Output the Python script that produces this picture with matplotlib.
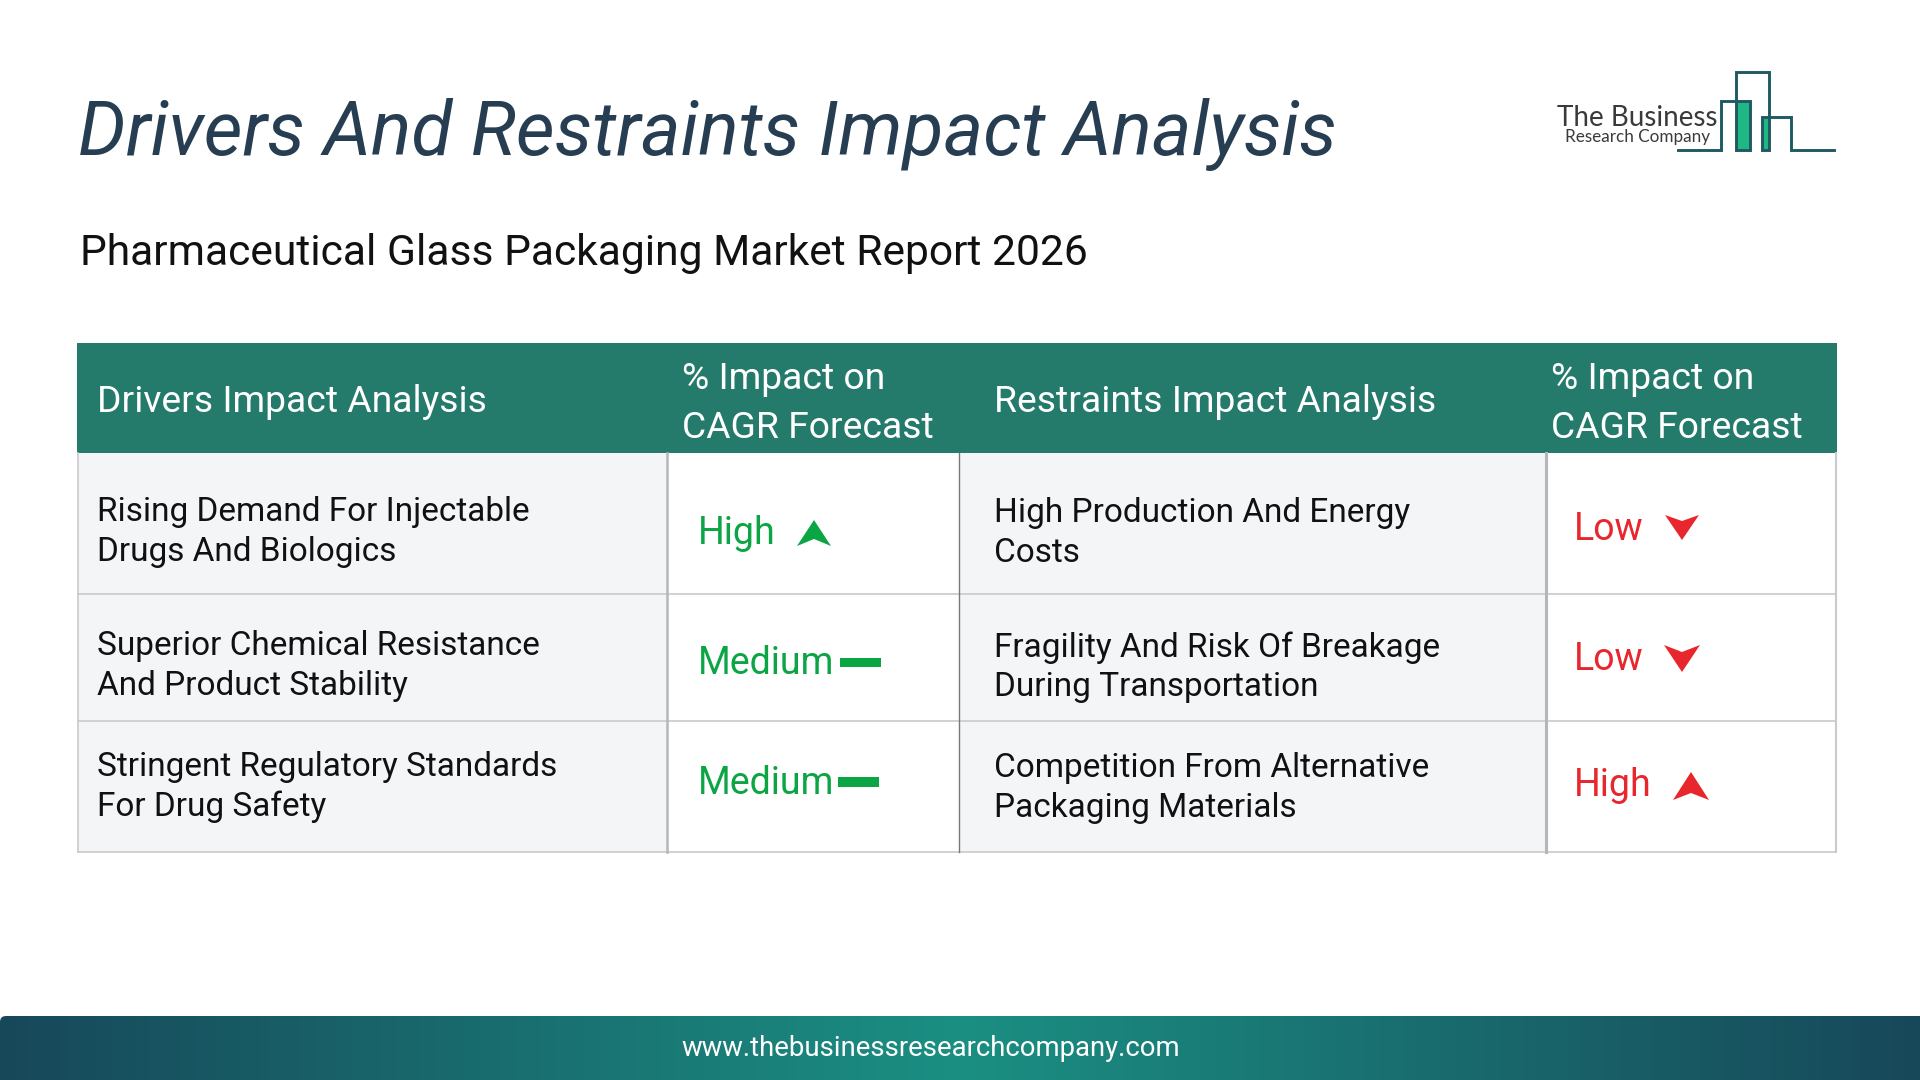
# -*- coding: utf-8 -*-
import numpy as np
import matplotlib
matplotlib.use('Agg')
import matplotlib.pyplot as plt
from matplotlib.colors import LinearSegmentedColormap
from matplotlib.patches import Rectangle, Polygon, FancyBboxPatch

title = 'Drivers And Restraints Impact Analysis'
subtitle = 'Pharmaceutical Glass Packaging Market Report 2026'
url = 'www.thebusinessresearchcompany.com'

headers = ['Drivers Impact Analysis', '% Impact on\nCAGR Forecast',
           'Restraints Impact Analysis', '% Impact on\nCAGR Forecast']
drivers = ['Rising Demand For Injectable\nDrugs And Biologics',
           'Superior Chemical Resistance\nAnd Product Stability',
           'Stringent Regulatory Standards\nFor Drug Safety']
driver_impact = ['High', 'Medium', 'Medium']
restraints = ['High Production And Energy\nCosts',
              'Fragility And Risk Of Breakage\nDuring Transportation',
              'Competition From Alternative\nPackaging Materials']
restraint_impact = ['Low', 'Low', 'High']

plt.rcParams['font.family'] = ['Roboto', 'DejaVu Sans']

# layout, in pixels of the 1920x1080 picture
col_x = [78, 667, 959, 1546, 1836]
row_y = [343, 453, 594, 721, 852]
text_x = [97, 682, 994, 1551]
GREEN = '#0ba544'
RED = '#e8262d'
TEAL = '#247a6b'
GRID = '#c9cacd'

fig = plt.figure(figsize=(19.2, 10.8), dpi=100)
ax = fig.add_axes([0, 0, 1, 1])
ax.set_xlim(0, 1920)
ax.set_ylim(1080, 0)
ax.axis('off')

# %% title block
ax.text(78, 134.5, title, fontsize=54.2, style='italic', color='#263d52', va='center')
ax.text(80, 254, subtitle, fontsize=30.7, color='#111111', va='center')

# %% table
ax.add_patch(Rectangle((col_x[0]-1, row_y[0]), col_x[4]-col_x[0]+2, row_y[1]-row_y[0], color=TEAL, lw=0))
for ii in [0, 2]:
    ax.add_patch(Rectangle((col_x[ii], row_y[1]), col_x[ii+1]-col_x[ii], row_y[4]-row_y[1], color='#f3f5f7', lw=0))
for y in row_y[2:]:
    ax.plot([col_x[0], col_x[4]], [y, y], color=GRID, lw=1.2)
for x, c, w in zip(col_x, [GRID, '#b4b6ba', '#77797d', '#b4b6ba', GRID], [1.2, 1.8, 1.0, 2.2, 1.5]):
    ax.plot([x, x], [row_y[1], row_y[4]], color=c, lw=w)

for x, h, y in zip(text_x, headers, [402, 403.5, 402, 403.5]):
    ax.text(x, y, h, fontsize=26.8, color='white', va='center', linespacing=1.46)

for y, name in zip([532, 666, 787], drivers):
    ax.text(text_x[0], y, name, fontsize=24, color='#111111', va='center', linespacing=1.285)
for y, name in zip([533, 667, 788], restraints):
    ax.text(text_x[2], y, name, fontsize=24, color='#111111', va='center', linespacing=1.285)

for y, name in zip([534, 664, 784], driver_impact):
    ax.text(698, y, name, fontsize=27, color=GREEN, va='center')
for y, name in zip([529, 659, 786], restraint_impact):
    ax.text(1573.5, y, name, fontsize=27, color=RED, va='center')

# impact arrows
ax.add_patch(Polygon([(814, 520), (831, 546), (814, 539), (797, 546)], color=GREEN, lw=0))
ax.add_patch(Rectangle((840, 658), 41, 9, color=GREEN, lw=0))
ax.add_patch(Rectangle((838, 777), 41, 10, color=GREEN, lw=0))
ax.add_patch(Polygon([(1665, 515), (1682, 521), (1699, 515), (1682, 540)], color=RED, lw=0))
ax.add_patch(Polygon([(1664, 645), (1682, 652), (1700, 645), (1682, 672)], color=RED, lw=0))
ax.add_patch(Polygon([(1691, 772), (1709, 800), (1691, 793), (1673, 800)], color=RED, lw=0))

# %% logo
ax.add_patch(Rectangle((1736, 101), 14, 49, color='#1fb884', lw=0))
ax.add_patch(Rectangle((1762, 118), 7, 32, color='#1fb884', lw=0))
logo_x = [1678, 1721, 1721, 1750, 1750, 1736, 1736, 1769, 1769, 1762, 1762, 1791, 1791, 1834]
logo_y = [150, 150, 101, 101, 150, 150, 72, 72, 150, 150, 117, 117, 150, 150]
ax.plot(logo_x, logo_y, color='#1f5a63', lw=2.1, solid_joinstyle='miter')
ax.text(1637, 118, 'The Business', fontsize=20, family='Lato', color='#3a3a3a', va='center', ha='center')
ax.text(1638, 137, 'Research Company', fontsize=12.3, family='Lato', color='#3a3a3a', va='center', ha='center')

# %% footer
cmap = LinearSegmentedColormap.from_list('footer', ['#17485a', '#1b8f82', '#17485a'])
im = ax.imshow(np.linspace(0, 1, 512).reshape(1, -1), cmap=cmap, extent=[0, 1920, 1080, 1016], aspect='auto')
clip = FancyBboxPatch((0, 1016), 2000, 100, boxstyle='round,pad=0,rounding_size=6', transform=ax.transData)
im.set_clip_path(clip)
ax.set_xlim(0, 1920)
ax.set_ylim(1080, 0)
ax.text(931, 1049, url, fontsize=19.8, color='white', va='center', ha='center')

fig.savefig('out.png', dpi=100)
